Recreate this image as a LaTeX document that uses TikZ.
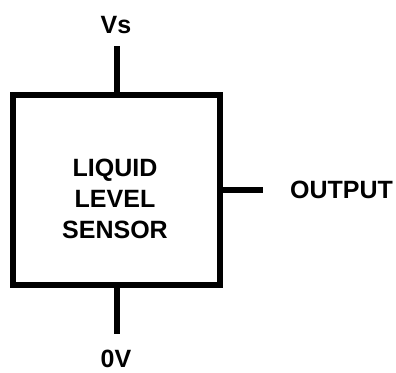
\documentclass[tikz,border=0pt]{standalone}
\usepackage{fontspec}
\setmainfont{Liberation Sans}
\usetikzlibrary{positioning}

\begin{document}
\begin{tikzpicture}[x=1pt,y=-1pt]
  % Styles
  \tikzstyle{heavy line}=[line width=6pt]
  \tikzstyle{sensor box}=[draw,heavy line,minimum width=207pt,minimum height=190pt,inner sep=0pt]
  \tikzstyle{pin text}=[font=\fontsize{25}{30}\selectfont\bfseries,inner sep=0pt]

  % Page
  \useasboundingbox (0,0) rectangle (396,372);

  % The graphic
  \node[sensor box] (sensor) at (116.5,190) {};
  \node[pin text,align=center,font=\fontsize{25}{31}\selectfont\bfseries] (name) at (115,199)
    {LIQUID\\LEVEL\\SENSOR};

  \coordinate (vsend) at (116.5,46);
  \coordinate (gndend) at (116.5,334);
  \coordinate (outend) at (263,190);

  \draw[heavy line] (sensor.north) -- (vsend);
  \draw[heavy line] (sensor.south) -- (gndend);
  \draw[heavy line] (sensor.east) -- (outend);

  \node[pin text,anchor=base] (vs) at (116,33) {Vs};
  \node[pin text,anchor=base] (gnd) at (116,367) {0V};
  \node[pin text,anchor=base west] (output) at (290,198) {OUTPUT};
\end{tikzpicture}
\end{document}
